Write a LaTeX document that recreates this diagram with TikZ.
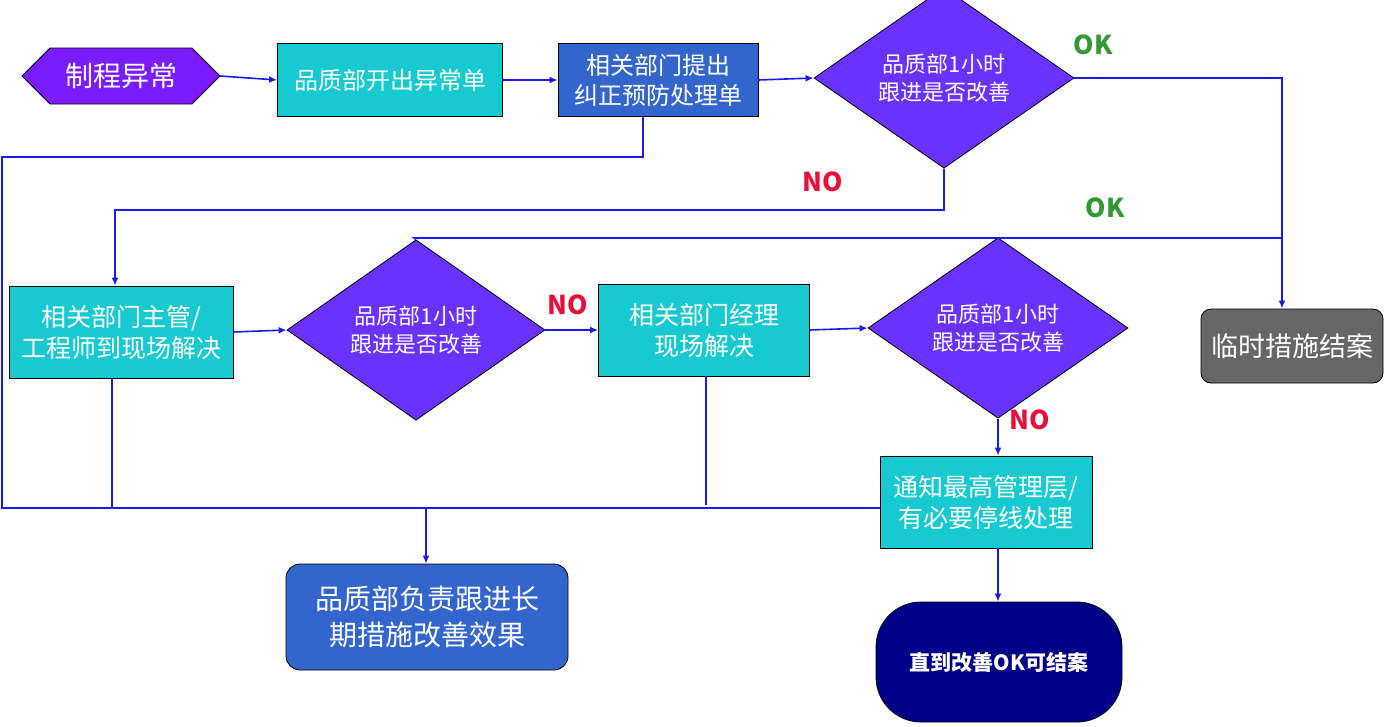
\documentclass[tikz,border=0pt]{standalone}
\usepackage{fontspec}
\setmainfont{Noto Sans CJK SC}
\usetikzlibrary{shapes.geometric,arrows.meta}
\definecolor{cyanb}{HTML}{17C9D1}
\definecolor{blueb}{HTML}{3366CC}
\definecolor{purp}{HTML}{6A32FF}
\definecolor{hexp}{HTML}{7A1CFF}
\definecolor{navyb}{HTML}{000088}
\definecolor{ln}{HTML}{1A1AF0}
\definecolor{okg}{HTML}{339933}
\definecolor{nor}{HTML}{E8103A}
\begin{document}
\begin{tikzpicture}[x=1pt,y=-1pt,
  box/.style={draw=black,line width=0.8pt,fill=cyanb,text=white,align=center,inner sep=0pt,font=\fontsize{25}{31}\selectfont},
  dia/.style={diamond,draw=black,line width=0.8pt,fill=purp,text=white,align=center,inner sep=0pt,font=\fontsize{22}{28}\selectfont},
  ar/.style={ln,line width=1.6pt,-{Latex[length=8pt,width=7pt]}},
  li/.style={ln,line width=1.6pt},
  ok/.style={text=okg,font=\bfseries\fontsize{26}{26}\selectfont},
  no/.style={text=nor,font=\bfseries\fontsize{26}{26}\selectfont}]
\useasboundingbox (0,0) rectangle (1390,726);
\fill[hexp,draw=black,line width=0.8pt] (22,76)--(50,48)--(192,48)--(220,76)--(192,104)--(50,104)--cycle;
\node[text=white,font=\fontsize{28}{28}\selectfont] (hex) at (121,76) {制程异常};
\coordinate (hexr) at (220,76);
\node[box,minimum width=225pt,minimum height=73pt,font=\fontsize{24}{30}\selectfont] (b1) at (390,80) {品质部开出异常单};
\node[box,fill=blueb,minimum width=200pt,minimum height=73pt,font=\fontsize{24}{30}\selectfont] (b2) at (658,80) {相关部门提出\\纠正预防处理单};
\node[dia,minimum width=260pt,minimum height=150pt] (d1) at (944,78) {品质部1小时\\跟进是否改善};
\node[box,fill=black!60,rounded corners=10pt,minimum width=182pt,minimum height=74pt,font=\fontsize{27}{30}\selectfont] (end1) at (1292,346) {临时措施结案};
\node[box,minimum width=224pt,minimum height=92pt] (b3) at (121,332) {相关部门主管/\\工程师到现场解决};
\node[dia,minimum width=258pt,minimum height=150pt] (d2) at (416,330) {品质部1小时\\跟进是否改善};
\node[box,minimum width=211pt,minimum height=92pt] (b4) at (704,330) {相关部门经理\\现场解决};
\node[dia,minimum width=260pt,minimum height=148pt] (d3) at (998,328) {品质部1小时\\跟进是否改善};
\node[box,minimum width=212pt,minimum height=92pt] (b5) at (986,502) {通知最高管理层/\\有必要停线处理};
\node[box,fill=blueb,rounded corners=14pt,minimum width=282pt,minimum height=106pt,font=\fontsize{28}{36}\selectfont] (b6) at (427,617) {品质部负责跟进长\\期措施改善效果};
\node[box,fill=navyb,rounded corners=45pt,minimum width=246pt,minimum height=120pt,font=\bfseries\fontsize{21}{24}\selectfont] (end2) at (999,662) {直到改善OK可结案};
% labels
\node[ok] (ok1) at (1093,45) {OK};
\node[ok] (ok2) at (1105,208) {OK};
\node[no] (no1) at (823,182) {NO};
\node[no] (no2) at (568,305) {NO};
\node[no] (no3) at (1030,420) {NO};
% connectors
\draw[ar] (hexr) -- (b1.west);
\draw[ar] (b1.east) -- (b2.west);
\draw[ar] (b2.east) -- (d1.west);
\draw[ar] (d1.east) -- (1282,78) -- (end1.north -| 1282,0);
\draw[ar] (d1.south) -- (944,210) -- (115,210) -- (b3.north -| 115,0);
\draw[ar] (b3.east) -- (d2.west);
\draw[ar] (d2.east) -- (b4.west);
\draw[ar] (b4.east) -- (d3.west);
\draw[li] (d2.north) -- (414,238) -- (1282,238);
\draw[li] (d3.north) -- (998,238);
\draw[ar] (d3.south) -- (b5.north -| d3.south);
\draw[ar] (b5.south -| d3.south) -- (end2.north -| d3.south);
\draw[li] (b2.south -| 643,0) -- (643,157) -- (2,157) -- (2,508) -- (b5.west |- 0,508);
\draw[li] (b3.south -| 112,0) -- (112,508);
\draw[li] (b4.south -| 706,0) -- (706,505);
\draw[ar] (426,508) -- (b6.north -| 426,0);
\end{tikzpicture}
\end{document}
